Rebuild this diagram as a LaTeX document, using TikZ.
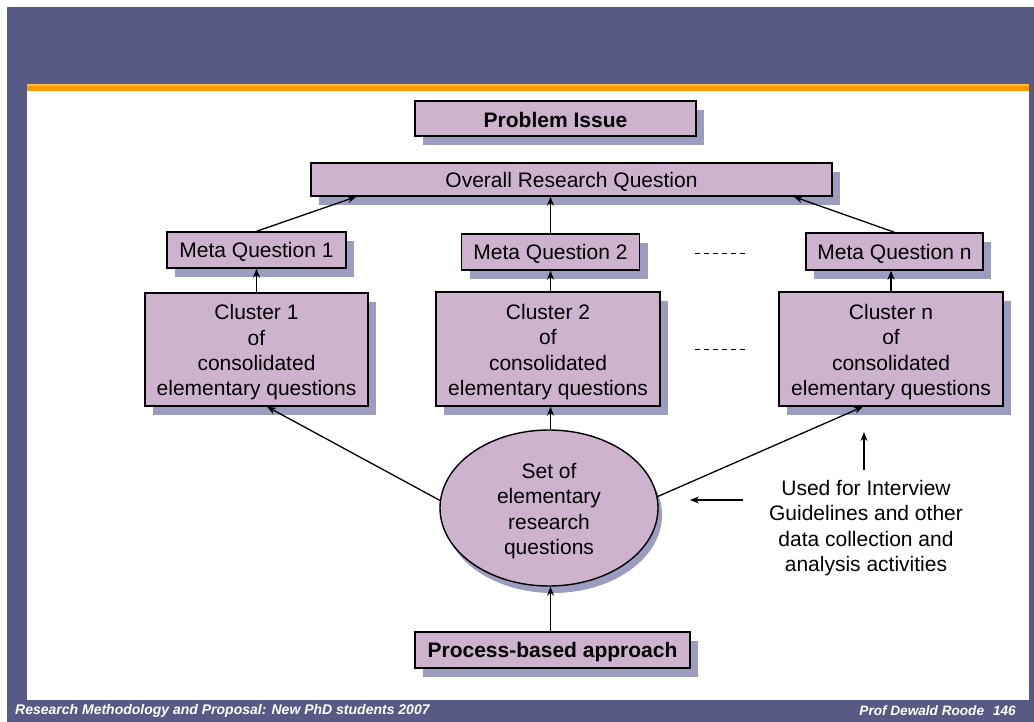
\documentclass[tikz,border=0pt]{standalone}
\usepackage{fontspec}
\setmainfont{Liberation Sans}
\usetikzlibrary{shapes.geometric,shadows,arrows.meta}
\definecolor{slate}{RGB}{88,90,133}
\definecolor{lilac}{RGB}{205,179,206}
\definecolor{shadowc}{RGB}{155,156,192}
\definecolor{orangebar}{RGB}{255,153,0}
\definecolor{orangetop}{RGB}{255,186,70}
\begin{document}
\begin{tikzpicture}[x=1pt,y=-1pt,
  every node/.style={font=\fontsize{21}{25.3}\selectfont},
  % a strut taller than the text block sets the text a little lower in its shape
  strut/.style={execute at begin node={\rule{0pt}{#1}}},
  box/.style={draw=black, line width=1.4pt, fill=lilac, inner sep=0pt, align=center, strut=19pt,
    drop shadow={shadow xshift=8pt, shadow yshift=-9pt, fill=shadowc, opacity=1}},
  tallbox/.style={box, strut=97pt},
  oval/.style={ellipse, draw=black, line width=1.4pt, fill=lilac, inner sep=0pt, align=center, strut=97pt,
    drop shadow={shadow xshift=4pt, shadow yshift=-7pt, fill=shadowc, opacity=1}},
  conn/.style={line width=1.3pt, -{Stealth[length=9pt,width=7pt]}},
  gap/.style={line width=1pt, dash pattern=on 5pt off 4pt},
  foot/.style={text=white, inner sep=0pt, font=\fontsize{14}{16}\selectfont\bfseries\itshape}]
\useasboundingbox (0,0) rectangle (1034,722);

% slide frame
\fill[white] (0,0) rectangle (1034,722);
\fill[slate] (7,7) rectangle (1034,722);
\fill[white] (27,91) rectangle (1029,700);
\fill[orangebar] (27,84) rectangle (1029,91);
\fill[orangetop] (27,84) rectangle (1029,86);

% boxes
\node[box, minimum width=281pt, minimum height=35pt] (PI) at (555.5,118.5) {\textbf{Problem Issue}};
\node[box, minimum width=521pt, minimum height=33pt] (ORQ) at (571.5,179.5) {Overall Research Question};

\node[box, minimum width=179pt, minimum height=36pt] (MQ1) at (256.5,250) {Meta Question 1};
\node[box, minimum width=178pt, minimum height=36pt] (MQ2) at (550.5,252) {Meta Question 2};
\node[box, minimum width=177pt, minimum height=37pt] (MQn) at (894.5,251.5) {Meta Question n};

\node[tallbox, minimum width=223pt, minimum height=113pt] (C1) at (256.5,349.5) {Cluster 1\\of\\consolidated\\elementary questions};
\node[tallbox, minimum width=224pt, minimum height=114pt] (C2) at (548,349) {Cluster 2\\of\\consolidated\\elementary questions};
\node[tallbox, minimum width=224pt, minimum height=114pt] (Cn) at (891,349) {Cluster n\\of\\consolidated\\elementary questions};

\node[oval, minimum width=218pt, minimum height=156pt] (E) at (549,508) {Set of\\elementary\\research\\questions};

\node[box, minimum width=275pt, minimum height=36pt] (PBA) at (552.5,650) {\textbf{Process-based approach}};

\node[align=center, inner sep=0pt] (ann) at (866,528) {Used for Interview\\Guidelines and other\\data collection and\\analysis activities};

% continuation marks
\coordinate (g1a) at (695,254);
\coordinate (g1b) at (745,254);
\coordinate (g2a) at (695,349);
\coordinate (g2b) at (745,349);
\draw[gap] (g1a) -- (g1b);
\draw[gap] (g2a) -- (g2b);

% meta questions to overall question
\draw[conn] (MQ1.north) -- ([xshift=46pt]ORQ.south west);
\draw[conn] (MQ2.north) -- (MQ2.north |- ORQ.south);
\draw[conn] (MQn.north) -- ([xshift=-39pt]ORQ.south east);

% clusters to meta questions
\draw[conn] (C1.north) -- (MQ1.south);
\draw[conn] (C2.north -| MQ2.south) -- (MQ2.south);
\draw[conn] (Cn.north) -- (Cn.north |- MQn.south);

% elementary questions to clusters
\draw[conn] (E.176) -- ([xshift=10.5pt]C1.south);
\draw[conn] (E.north -| MQ2.south) -- (MQ2.south |- C2.south);
\draw[conn] (E.6) -- ([xshift=-28pt]Cn.south);

% approach to elementary questions
\draw[conn] (PBA.north -| MQ2.south) -- (MQ2.south |- E.south);

% annotation pointers
\coordinate (upA) at (864,470);
\coordinate (upB) at (864,432);
\coordinate (lfA) at (743,500);
\coordinate (lfB) at (690,500);
\draw[conn] (upA) -- (upB);
\draw[conn] (lfA) -- (lfB);

% footer
\node[foot, anchor=west] (fl) at (15,711) {Research Methodology and Proposal: New PhD students 2007};
\node[foot, anchor=east, font=\fontsize{13.6}{16}\selectfont\bfseries\itshape] (fr) at (1016,711) {Prof Dewald Roode\hspace{9pt}146};
\end{tikzpicture}
\end{document}
